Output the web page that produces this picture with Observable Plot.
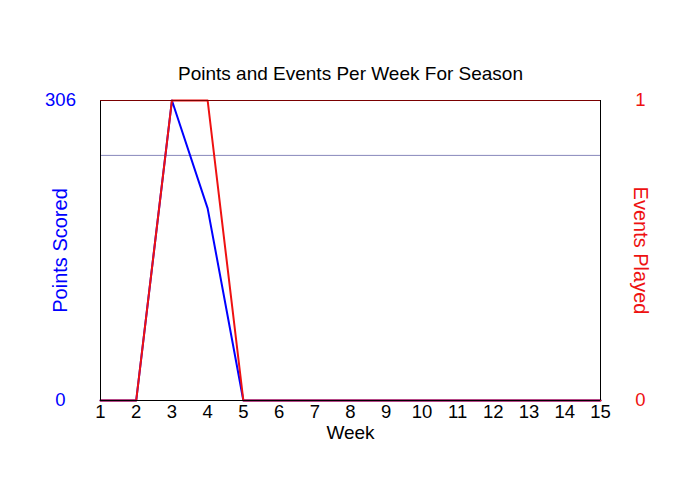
<!DOCTYPE html>
<html>
<head>
<meta charset="utf-8">
<script src="https://cdn.jsdelivr.net/npm/d3@7"></script>
<script src="https://cdn.jsdelivr.net/npm/@observablehq/plot@0.6"></script>
<style>
  html, body { margin: 0; padding: 0; background: #fff; }
  #chart { width: 700px; height: 500px; }
</style>
</head>
<body>
<div id="chart"></div>
<script>
const weeks = [1,2,3,4,5,6,7,8,9,10,11,12,13,14,15];
const pointsScored = [0,0,306,196,0,0,0,0,0,0,0,0,0,0,0];
const eventsPlayed = [0,0,1,1,0,0,0,0,0,0,0,0,0,0,0];
const pointsMax = 306;
const eventsMax = 1;
const referenceLine = [250];
const title = "Points and Events Per Week For Season";

const pointsData = weeks.map((w, i) => ({week: w, value: pointsScored[i]}));
const eventsData = weeks.map((w, i) => ({week: w, value: eventsPlayed[i] / eventsMax * pointsMax}));

const font = "'Liberation Sans', Arial, sans-serif";
const blue = "#0000ff";
const red = "#ee1111";

const plot = Plot.plot({
  width: 700,
  height: 500,
  marginLeft: 100,
  marginRight: 100,
  marginTop: 100,
  marginBottom: 100,
  style: {fontFamily: font, fontSize: "18px", background: "#fff"},
  x: {domain: [1, 15], axis: null},
  y: {domain: [0, pointsMax], axis: null},
  marks: [
    Plot.ruleY(referenceLine, {stroke: "#8888bb", strokeWidth: 1}),
    Plot.line(pointsData, {x: "week", y: "value", stroke: blue, strokeWidth: 2}),
    Plot.line(eventsData, {x: "week", y: "value", stroke: red, strokeWidth: 2}),
    Plot.ruleX([1, 15], {stroke: "#000", strokeWidth: 1}),
    Plot.ruleY([0], {stroke: "#000", strokeWidth: 1}),
    Plot.ruleY([pointsMax], {stroke: "#7a0000", strokeWidth: 1}),
    Plot.axisX({ticks: weeks, tickSize: 0, tickPadding: 4, tickFormat: d => String(d), fill: "#000", fontSize: 18.5, label: null}),
    Plot.axisY({anchor: "left", ticks: [0, pointsMax], tickSize: 0, tickPadding: 40, textAnchor: "middle", fill: blue, fontSize: 18.5, label: null}),
    Plot.axisY({anchor: "right", ticks: [0, pointsMax], tickSize: 0, tickPadding: 40, textAnchor: "middle", tickFormat: d => String(Math.round(d / pointsMax * eventsMax)), fill: red, fontSize: 18.5, label: null}),
    Plot.text([title], {frameAnchor: "top", dy: -27, lineAnchor: "middle", textAnchor: "middle", fontSize: 19, fill: "#000"}),
    Plot.text(["Week"], {frameAnchor: "bottom", dy: 32, lineAnchor: "middle", textAnchor: "middle", fontSize: 19, fill: "#000"}),
    Plot.text(["Points Scored"], {frameAnchor: "left", dx: -40, rotate: -90, textAnchor: "middle", lineAnchor: "middle", fontSize: 20, fill: blue}),
    Plot.text(["Events Played"], {frameAnchor: "right", dx: 40, rotate: 90, textAnchor: "middle", lineAnchor: "middle", fontSize: 20, fill: red})
  ]
});
document.getElementById("chart").appendChild(plot);
</script>
</body>
</html>
